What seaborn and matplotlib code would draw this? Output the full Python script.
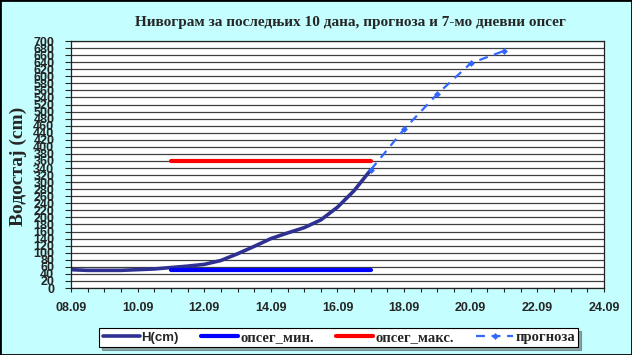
import numpy as np
import pandas as pd
import seaborn as sns
import matplotlib.pyplot as plt
from matplotlib.patches import Rectangle

# observed water level, half-day steps (day 0 = 08.09)
h_days = [0, 0.5, 1, 1.5, 2, 2.5, 3, 3.5, 4, 4.5, 5, 5.5, 6, 6.5, 7, 7.5, 8, 8.5, 9]
h_cm = [52, 50, 50, 50, 52, 54, 58, 62, 67, 78, 97, 118, 140, 156, 171, 193, 229, 276, 335]

# 7-day range
band_days = [3, 9]
band_min = [50, 50]
band_max = [360, 360]

# forecast
fc_days = [9, 10, 11, 12, 13]
fc_cm = [335, 450, 550, 637, 672]

tick_days = [0, 2, 4, 6, 8, 10, 12, 14, 16]
tick_labels = ['08.09', '10.09', '12.09', '14.09', '16.09', '18.09', '20.09', '22.09', '24.09']

bg = '#C4FEFE'
sns.set_style('white')
plt.rcParams['font.family'] = ['Liberation Sans', 'DejaVu Sans']

fig = plt.figure(figsize=(6.32, 3.55), dpi=100, facecolor=bg)
ax = fig.add_axes([0.1123, 0.1887, 0.8434, 0.6958])
ax.set_facecolor('white')

sns.lineplot(x=h_days, y=h_cm, ax=ax, color='#2E3192', linewidth=2.6, label='H(cm)')
sns.lineplot(x=band_days, y=band_min, ax=ax, color='#0000FF', linewidth=3.0, label='опсег_мин.')
sns.lineplot(x=band_days, y=band_max, ax=ax, color='#FF0000', linewidth=3.0, label='опсег_макс.')
sns.lineplot(x=fc_days, y=fc_cm, ax=ax, color='#3366FF', linewidth=1.6, linestyle=(0, (4, 3)),
             marker='D', markersize=3.5, markeredgewidth=0, label='прогноза')

ax.set_xlim(0, 16)
ax.set_ylim(0, 700)
ax.set_yticks(np.arange(0, 701, 20))
ax.set_xticks(tick_days)
ax.set_xticklabels(tick_labels)
ax.set_xticks(np.arange(0, 16.01, 0.5), minor=True)
ax.yaxis.grid(True, color='#404040', linewidth=0.9)
ax.set_axisbelow(True)
ax.set_xlabel('')
ax.set_ylabel('')

# y labels overlap in the original too
ax.tick_params(axis='y', which='major', direction='out', length=4, width=0.8, pad=8,
               labelsize=9, left=True)
ax.tick_params(axis='x', which='both', direction='out', length=3, width=0.8, pad=7,
               labelsize=9, bottom=True)
for lab in ax.get_xticklabels() + ax.get_yticklabels():
    lab.set_fontweight('bold')
for sp in ax.spines.values():
    sp.set_color('#222222')
    sp.set_linewidth(0.9)

fig.text(0.554, 0.938, 'Нивограм за последњих 10 дана, прогноза и 7-мо дневни опсег',
         ha='center', va='center', fontsize=11, fontweight='bold', family='Liberation Serif')
fig.text(0.029, 0.53, 'Водостај (cm)', rotation=90, ha='center', va='center',
         fontsize=14, fontweight='bold', family='Liberation Serif')

ax.legend_.remove()
handles, labels = ax.get_legend_handles_labels()
leg = fig.legend(handles, labels, loc='center', bbox_to_anchor=(0.536, 0.049), ncol=4,
                 fontsize=9.5, frameon=True, fancybox=False, shadow=True,
                 handlelength=2.8, handletextpad=0.15, columnspacing=1.7,
                 borderpad=0.25, borderaxespad=0, edgecolor='black', facecolor='white',
                 framealpha=1)
leg.get_frame().set_linewidth(0.8)
for i, t in enumerate(leg.get_texts()):
    t.set_fontweight('bold')
    if i > 0:
        t.set_family('Liberation Serif')
        t.set_fontsize(10.5)

fig.patches.append(Rectangle((0, 0), 1, 1, transform=fig.transFigure, fill=False,
                             edgecolor='black', linewidth=2))

fig.savefig('out.png', dpi=100, facecolor=bg)
